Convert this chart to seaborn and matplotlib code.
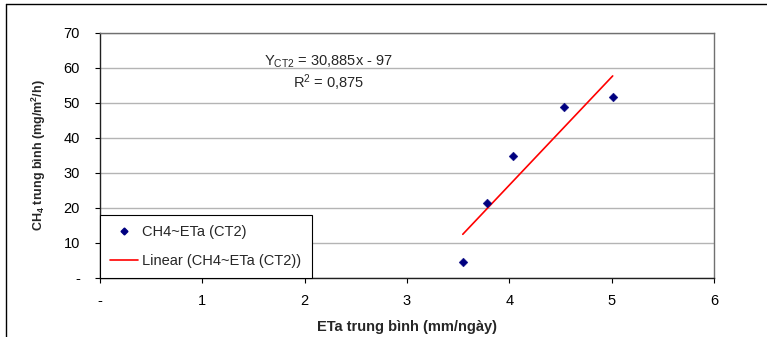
import matplotlib
matplotlib.use("Agg")
import matplotlib.pyplot as plt
from matplotlib.lines import Line2D
import numpy as np
import pandas as pd
import seaborn as sns

# values
eta = [3.545, 3.785, 4.04, 4.53, 5.01]
ch4 = [4.5, 21.5, 34.9, 48.8, 51.6]
slope = 30.885
intercept = -97.0
r2 = 0.875
x_ticks = [0, 1, 2, 3, 4, 5, 6]
x_labels = ["-", "1", "2", "3", "4", "5", "6"]
y_ticks = [0, 10, 20, 30, 40, 50, 60, 70]
y_labels = ["-", "10", "20", "30", "40", "50", "60", "70"]

FS = 10.5

sns.set_theme(style="white")
plt.rcParams["font.family"] = ["Liberation Sans", "DejaVu Sans"]
plt.rcParams["mathtext.default"] = "regular"

fig = plt.figure(figsize=(7.67, 3.37), dpi=100)
ax = fig.add_axes([0.1304, 0.1751, 0.8005, 0.7270])

df = pd.DataFrame({"eta": eta, "ch4": ch4})
sns.scatterplot(data=df, x="eta", y="ch4", marker="D", s=20, color="#000080",
                edgecolor="#000080", linewidth=0.3, ax=ax, zorder=3)

fit = pd.DataFrame({"eta": [min(eta), max(eta)]})
fit["ch4"] = slope * fit["eta"] + intercept
sns.lineplot(data=fit, x="eta", y="ch4", color="#ff0000", linewidth=1.2, ax=ax, zorder=2)

ax.set_xlim(0, 6)
ax.set_ylim(0, 70)
ax.set_xticks(x_ticks)
ax.set_xticklabels(x_labels)
ax.set_yticks(y_ticks)
ax.set_yticklabels(y_labels)
ax.yaxis.grid(True, color="#b4b4b4", linewidth=1.0)
ax.set_axisbelow(True)
ax.tick_params(axis="both", which="major", direction="out", length=3.5, width=0.8,
               color="black", labelsize=FS, labelcolor="black")
ax.tick_params(axis="x", pad=8)
ax.tick_params(axis="y", pad=11)
ax.tick_params(axis="both", bottom=True, left=True)

for side in ["top", "right"]:
    ax.spines[side].set_color("#707070")
    ax.spines[side].set_linewidth(1.0)
for side in ["bottom", "left"]:
    ax.spines[side].set_color("#202020")
    ax.spines[side].set_linewidth(1.0)

ax.set_xlabel("ETa trung bình (mm/ngày)", fontsize=FS, fontweight="bold", labelpad=9)
ax.set_ylabel("CH$_4$ trung bình (mg/m$^2$/h)", fontsize=9, fontweight="bold", labelpad=11)

ax.text(2.23, 61.7, "Y$_{CT2}$ = 30,885x - 97", fontsize=FS, ha="center", va="center")
ax.text(2.23, 55.7, "R$^2$ = 0,875", fontsize=FS, ha="center", va="center")

handles = [
    Line2D([], [], marker="D", linestyle="none", color="#000080", markersize=3.5),
    Line2D([], [], color="#ff0000", linewidth=1.2),
]
leg = ax.legend(handles, ["CH4~ETa (CT2)", "Linear (CH4~ETa (CT2))"],
                loc="lower left", bbox_to_anchor=(0, 0), borderaxespad=0,
                fancybox=False, framealpha=1, edgecolor="black", fontsize=FS,
                handlelength=1.9, borderpad=0.7, labelspacing=1.0, handletextpad=0.3)
leg.get_frame().set_linewidth(0.8)

# outer frame of the chart area
fig.add_artist(Line2D([6 / 767, 1], [1 - 4 / 337, 1 - 4 / 337], color="black", linewidth=1.0))
fig.add_artist(Line2D([6 / 767, 6 / 767], [0, 1 - 4 / 337], color="black", linewidth=1.0))

fig.savefig("out.png", dpi=100)
plt.close(fig)
